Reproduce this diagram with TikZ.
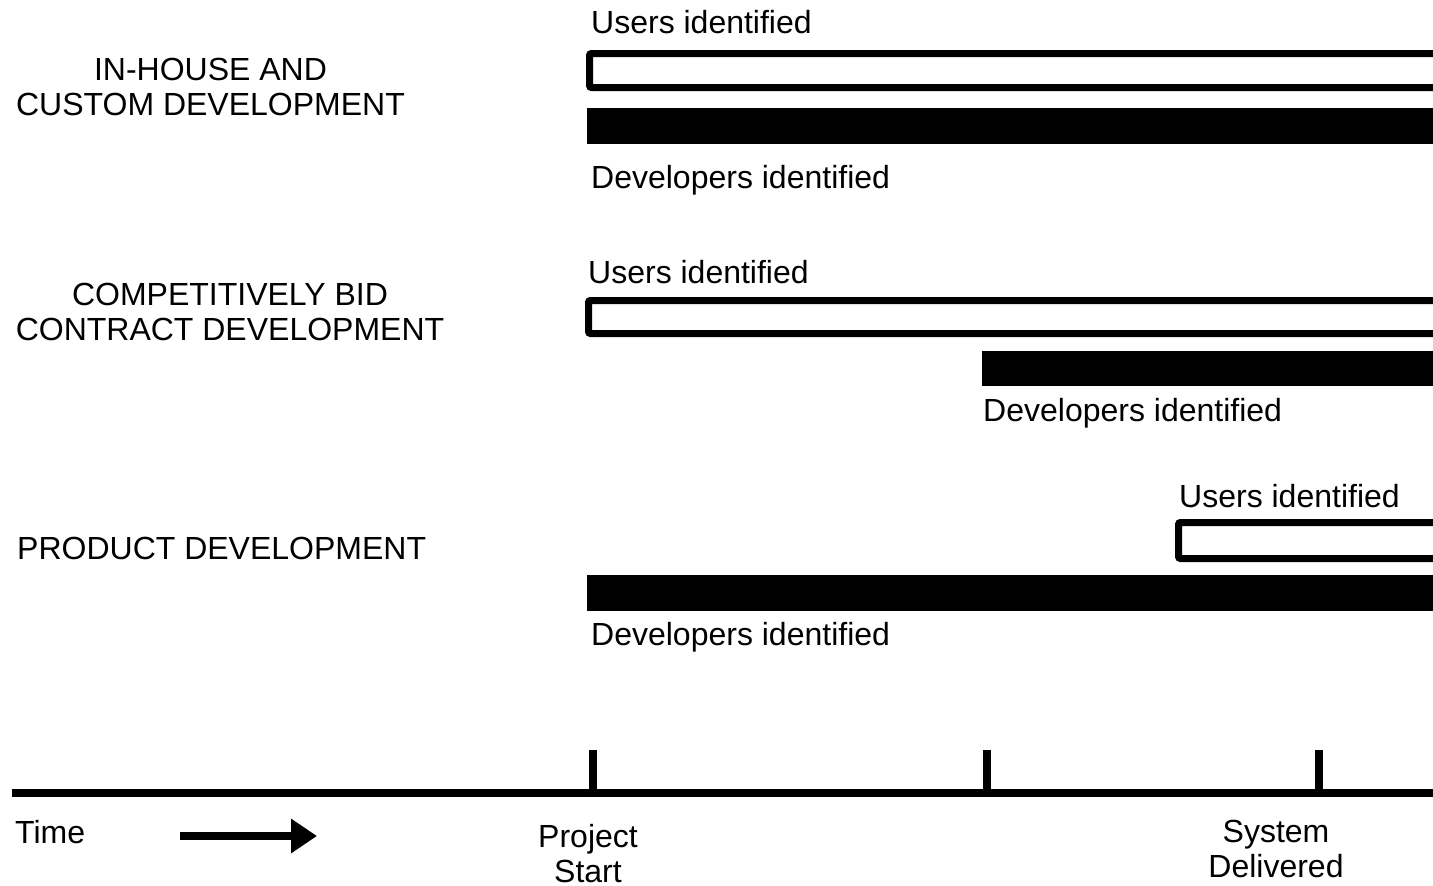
\documentclass[tikz,border=0pt]{standalone}
\usepackage{fontspec}
\setmainfont{Liberation Sans}
\usetikzlibrary{arrows.meta}
\begin{document}
\begin{tikzpicture}[x=1pt,y=-1pt,
  lbl/.style={inner sep=0pt,anchor=base west,font=\fontsize{32}{35}\selectfont},
  clbl/.style={inner sep=0pt,anchor=base,font=\fontsize{32}{35}\selectfont,align=center},
  outlinebar/.style={line width=7pt,rounded corners=2pt},
  solidbar/.style={fill=black,draw=none},
  axisline/.style={line width=8pt}]
\useasboundingbox (0,0) rectangle (1433,886);
\begin{scope}
\clip (0,0) rectangle (1433,886);
% row 1
\draw[outlinebar] (1450,53.5) -- (589.5,53.5) -- (589.5,87.5) -- (1450,87.5);
\fill[solidbar] (587,108) rectangle (1450,144);
% row 2
\draw[outlinebar] (1450,300.5) -- (588.5,300.5) -- (588.5,333.5) -- (1450,333.5);
\fill[solidbar] (982,351) rectangle (1450,386);
% row 3
\draw[outlinebar] (1450,522.5) -- (1178.5,522.5) -- (1178.5,558.5) -- (1450,558.5);
\fill[solidbar] (587,575) rectangle (1450,611);
% axis
\draw[axisline] (12,793) -- (1450,793);
\draw[axisline] (593,750) -- (593,793);
\draw[axisline] (987,750) -- (987,793);
\draw[axisline] (1319,750) -- (1319,793);
\end{scope}
% labels
\node[lbl] (u1) at (591,34) {Users identified};
\node[clbl] (g1) at (210.5,115) {IN-HOUSE AND\\CUSTOM DEVELOPMENT};
\node[lbl] (d1) at (591,188) {Developers identified};
\node[clbl] (g2) at (230,340) {COMPETITIVELY BID\\CONTRACT DEVELOPMENT};
\node[lbl] (u2) at (588,283) {Users identified};
\node[lbl] (d2) at (983,421) {Developers identified};
\node[lbl] (u3) at (1179,507) {Users identified};
\node[lbl] (g3) at (17,559) {PRODUCT DEVELOPMENT};
\node[lbl] (d3) at (591,645) {Developers identified};
\node[lbl] (time) at (15,843) {Time};
\node[clbl] (ps) at (588,882) {Project\\Start};
\node[clbl] (sd) at (1276,877) {System\\Delivered};
% time arrow
\coordinate (ta) at (180,836);
\coordinate (tb) at (317,836);
\draw[line width=8pt,-{Triangle[length=26pt,width=33pt]}] (ta) -- (tb);
\end{tikzpicture}
\end{document}
